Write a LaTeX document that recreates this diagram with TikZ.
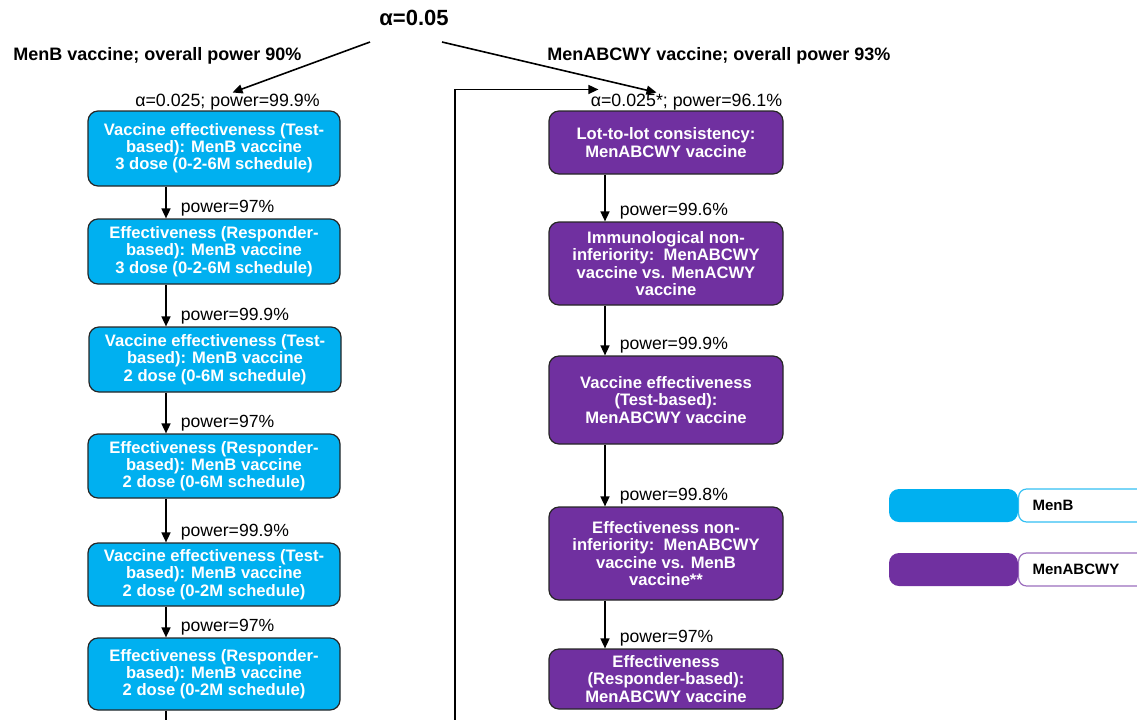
\documentclass[tikz,border=0pt]{standalone}
\usepackage{fontspec}
\setmainfont{Liberation Sans}
\usetikzlibrary{arrows.meta}
\definecolor{menb}{RGB}{0,176,240}
\definecolor{menabcwy}{RGB}{112,48,160}
\tikzset{
  box/.style={draw=black!85, line width=0.6pt, rounded corners=5pt, text=white,
    align=center, inner sep=0pt, font=\bfseries\fontsize{8.3}{8.6}\selectfont},
  bbox/.style={box, fill=menb, minimum width=126pt},
  pbox/.style={box, fill=menabcwy, minimum width=117pt},
  arr/.style={-{Triangle[length=5pt,width=4.5pt]}, line width=0.8pt},
  pwr/.style={pos=1, anchor=base west, inner sep=0pt, xshift=7pt, yshift=3pt, font=\fontsize{8.8}{10}\selectfont},
  hdr/.style={anchor=west, inner sep=0pt, font=\bfseries\fontsize{9}{11}\selectfont},
  alab/.style={inner sep=0pt, font=\fontsize{8.9}{10}\selectfont},
  legtxt/.style={fill=white, line width=0.6pt, rounded corners=4pt, minimum height=16.5pt,
    text width=66pt, inner xsep=7pt, align=left, anchor=west, font=\bfseries\fontsize{7.5}{9}\selectfont},
}
\begin{document}
\begin{tikzpicture}[x=0.5pt, y=-0.5pt]
\useasboundingbox (0,0) rectangle (1137,719);

% top of the split
\node[inner sep=1pt, font=\bfseries\fontsize{11}{13}\selectfont] (a0) at (414,18) {α=0.05};
\node[hdr] (hb) at (13,56) {MenB vaccine; overall power 90\%};
\node[hdr] (hp) at (547,56) {MenABCWY vaccine; overall power 93\%};

\coordinate (lx) at (166,0);
\coordinate (rx) at (605,0);

% MenB branch
\node[bbox, minimum height=37.5pt] (b1) at (214,148.5) {Vaccine effectiveness (Test-\\based): MenB vaccine\\3 dose (0-2-6M schedule)};
\node[bbox, minimum height=32.5pt] (b2) at (214,251.5) {Effectiveness (Responder-\\based): MenB vaccine\\3 dose (0-2-6M schedule)};
\node[bbox, minimum height=32.5pt] (b3) at (215,359.5) {Vaccine effectiveness (Test-\\based): MenB vaccine\\2 dose (0-6M schedule)};
\node[bbox, minimum height=32pt] (b4) at (214,466) {Effectiveness (Responder-\\based): MenB vaccine\\2 dose (0-6M schedule)};
\node[bbox, minimum height=31.5pt] (b5) at (214,574.5) {Vaccine effectiveness (Test-\\based): MenB vaccine\\2 dose (0-2M schedule)};
\node[bbox, minimum height=36pt] (b6) at (214,674) {Effectiveness (Responder-\\based): MenB vaccine\\2 dose (0-2M schedule)};
\node[alab, anchor=south, xshift=6.75pt] (ab) at (b1.north) {α=0.025; power=99.9\%};

\draw[arr] (b1.south -| lx) -- (b2.north -| lx) node[pwr] {power=97\%};
\draw[arr] (b2.south -| lx) -- (b3.north -| lx) node[pwr] {power=99.9\%};
\draw[arr] (b3.south -| lx) -- (b4.north -| lx) node[pwr] {power=97\%};
\draw[arr] (b4.south -| lx) -- (b5.north -| lx) node[pwr] {power=99.9\%};
\draw[arr] (b5.south -| lx) -- (b6.north -| lx) node[pwr] {power=97\%};
\draw[line width=0.8pt] (b6.south -| lx) -- ++(0,20);

% MenABCWY branch
\node[pbox, minimum height=31.5pt] (p1) at (666,142.5) {Lot-to-lot consistency:\\MenABCWY vaccine};
\node[pbox, minimum height=41.5pt] (p2) at (666,263.5) {Immunological non-\\inferiority:\ \ MenABCWY\\vaccine vs. MenACWY\\vaccine};
\node[pbox, minimum height=44pt] (p3) at (666,400) {Vaccine effectiveness\\(Test-based):\\MenABCWY vaccine};
\node[pbox, minimum height=46.5pt] (p4) at (666,553.5) {Effectiveness non-\\inferiority:\ \ MenABCWY\\vaccine vs. MenB\\vaccine**};
\node[pbox, minimum height=30pt] (p5) at (666,679) {Effectiveness\\(Responder-based):\\MenABCWY vaccine};
\node[alab, anchor=south east, xshift=-0.5pt] (ap) at (p1.north east) {α=0.025*; power=96.1\%};

\draw[arr] (p1.south -| rx) -- (p2.north -| rx) node[pwr] {power=99.6\%};
\draw[arr] (p2.south -| rx) -- (p3.north -| rx) node[pwr] {power=99.9\%};
\draw[arr] (p3.south -| rx) -- (p4.north -| rx) node[pwr] {power=99.8\%};
\draw[arr] (p4.south -| rx) -- (p5.north -| rx) node[pwr] {power=97\%};

% split arrows and the loop back
\draw[arr] ([shift={(-44,24)}]a0.center) -- ([shift={(5,-1)}]ab.north);
\draw[arr] ([shift={(28,24)}]a0.center) -- ([shift={(-30,-1)}]ap.north);
\coordinate (lp) at (455,730);
\draw[arr] (lp) |- ([shift={(8,-4)}]ap.north west);

% legend
\node[legtxt, draw=menb!80] (lbt) at (1018,505.5) {MenB};
\node[legtxt, draw=menabcwy!70] (lpt) at (1018,569.5) {MenABCWY};
\node[fill=menb, rounded corners=5pt, minimum width=64.5pt, minimum height=16.5pt, inner sep=0pt] (lb) at (953.5,505.5) {};
\node[fill=menabcwy, rounded corners=5pt, minimum width=64.5pt, minimum height=16.5pt, inner sep=0pt] (lpb) at (953.5,569.5) {};
\end{tikzpicture}
\end{document}
